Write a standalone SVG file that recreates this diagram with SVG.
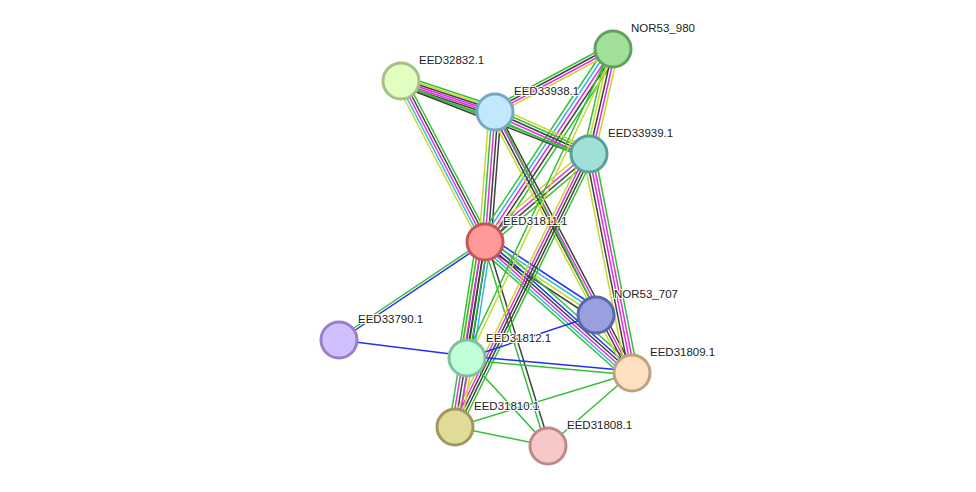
<svg xmlns="http://www.w3.org/2000/svg" width="976" height="492" viewBox="0 0 976 492">
<style>
line{stroke-width:1.5;fill:none}
.g{stroke:#33c033}.y{stroke:#c8d830}.c{stroke:#30b8e0}.m{stroke:#e030e0}.k{stroke:#404040}.b{stroke:#2030f0}
circle{stroke-width:3}
text{font-family:"Liberation Sans",Arial,sans-serif;font-size:11.5px;fill:#222;paint-order:stroke;stroke:#fff;stroke-width:2px}
</style>
<rect width="976" height="492" fill="#fff"/>
<g id="edges">
<!-- 31811-32832 -->
<line class="y" x1="479" y1="242" x2="395" y2="81"/><line class="c" x1="482" y1="242" x2="398" y2="81"/><line class="m" x1="485" y1="242" x2="401" y2="81"/><line class="k" x1="488" y1="242" x2="404" y2="81"/><line class="g" x1="491" y1="242" x2="407" y2="81"/>
<!-- 31811-33938 -->
<line class="y" x1="479" y1="242" x2="489" y2="112"/><line class="g" x1="482" y1="242" x2="492" y2="112"/><line class="m" x1="485" y1="242" x2="495" y2="112"/><line class="k" x1="488" y1="242" x2="498" y2="112"/><line class="k" x1="491" y1="242" x2="501" y2="112"/>
<!-- 31811-980 -->
<line class="g" x1="479" y1="238" x2="607" y2="45"/><line class="c" x1="482" y1="240" x2="610" y2="47"/><line class="m" x1="485" y1="242" x2="613" y2="49"/><line class="k" x1="488" y1="244" x2="616" y2="51"/><line class="g" x1="491" y1="246" x2="619" y2="53"/>
<!-- 31811-33939 -->
<line class="y" x1="483" y1="237" x2="587" y2="149"/><line class="m" x1="485" y1="240" x2="589" y2="152"/><line class="k" x1="487" y1="243" x2="591" y2="155"/><line class="g" x1="489" y1="246" x2="593" y2="158"/>
<!-- 31811-707 -->
<line class="b" x1="488" y1="236" x2="599" y2="309"/><line class="c" x1="486" y1="239" x2="597" y2="312"/><line class="y" x1="484" y1="242" x2="595" y2="315"/><line class="k" x1="482" y1="245" x2="593" y2="318"/>
<!-- 31811-33790 -->
<line class="g" x1="485" y1="240" x2="339" y2="338"/><line class="b" x1="485" y1="243" x2="339" y2="341"/>
<!-- 31811-31812 -->
<line class="g" x1="476" y1="242" x2="458" y2="358"/><line class="y" x1="479" y1="242" x2="461" y2="358"/><line class="k" x1="482" y1="242" x2="464" y2="358"/><line class="k" x1="485" y1="242" x2="467" y2="358"/><line class="b" x1="488" y1="242" x2="470" y2="358"/><line class="c" x1="491" y1="242" x2="473" y2="358"/>
<!-- 31811-31809 -->
<line class="g" x1="489" y1="237" x2="636" y2="368"/><line class="b" x1="487" y1="240" x2="634" y2="371"/><line class="k" x1="485" y1="242" x2="632" y2="373"/><line class="m" x1="483" y1="244" x2="630" y2="375"/><line class="c" x1="481" y1="246" x2="628" y2="377"/><line class="g" x1="479" y1="248" x2="626" y2="379"/>
<!-- 31811-31810 -->
<line class="g" x1="479" y1="242" x2="449" y2="427"/><line class="m" x1="482" y1="242" x2="452" y2="427"/><line class="k" x1="485" y1="242" x2="455" y2="427"/><line class="g" x1="488" y1="242" x2="458" y2="427"/>
<!-- 31811-31808 -->
<line class="g" x1="483" y1="242" x2="546" y2="446"/><line class="k" x1="487" y1="242" x2="550" y2="446"/>
<!-- 32832-33938 -->
<line class="g" x1="401" y1="75" x2="495" y2="106"/><line class="y" x1="401" y1="77" x2="495" y2="108"/><line class="k" x1="401" y1="79" x2="495" y2="110"/><line class="m" x1="401" y1="81" x2="495" y2="112"/><line class="m" x1="401" y1="83" x2="495" y2="114"/><line class="k" x1="401" y1="85" x2="495" y2="116"/><line class="g" x1="401" y1="87" x2="495" y2="118"/>
<!-- 32832-33939 -->
<line class="g" x1="401" y1="84" x2="589" y2="157"/><line class="k" x1="401" y1="86" x2="589" y2="159"/>
<!-- 33938-980 -->
<line class="g" x1="495" y1="106" x2="613" y2="43"/><line class="k" x1="495" y1="109" x2="613" y2="46"/><line class="m" x1="495" y1="112" x2="613" y2="49"/><line class="y" x1="495" y1="115" x2="613" y2="52"/>
<!-- 33938-33939 -->
<line class="y" x1="495" y1="106" x2="589" y2="148"/><line class="g" x1="495" y1="109" x2="589" y2="151"/><line class="k" x1="495" y1="112" x2="589" y2="154"/><line class="m" x1="495" y1="115" x2="589" y2="157"/><line class="g" x1="495" y1="118" x2="589" y2="160"/>
<!-- 33938-31809 -->
<line class="y" x1="489" y1="112" x2="626" y2="373"/><line class="k" x1="492" y1="112" x2="629" y2="373"/><line class="m" x1="495" y1="112" x2="632" y2="373"/><line class="k" x1="498" y1="112" x2="635" y2="373"/>
<!-- 33938-707 -->
<line class="g" x1="497" y1="112" x2="598" y2="315"/>
<!-- 980-33939 -->
<line class="g" x1="607" y1="49" x2="583" y2="154"/><line class="y" x1="610" y1="49" x2="586" y2="154"/><line class="k" x1="613" y1="49" x2="589" y2="154"/><line class="m" x1="616" y1="49" x2="592" y2="154"/><line class="y" x1="619" y1="49" x2="595" y2="154"/>
<!-- 980-31812 -->
<line class="g" x1="611" y1="49" x2="465" y2="358"/><line class="y" x1="615" y1="49" x2="469" y2="358"/>
<!-- 33939-31810 -->
<line class="y" x1="583" y1="154" x2="449" y2="427"/><line class="m" x1="586" y1="154" x2="452" y2="427"/><line class="k" x1="589" y1="154" x2="455" y2="427"/><line class="k" x1="592" y1="154" x2="458" y2="427"/><line class="g" x1="595" y1="154" x2="461" y2="427"/>
<!-- 33939-31809 -->
<line class="y" x1="583" y1="154" x2="626" y2="373"/><line class="k" x1="586" y1="154" x2="629" y2="373"/><line class="m" x1="589" y1="154" x2="632" y2="373"/><line class="m" x1="592" y1="154" x2="635" y2="373"/><line class="g" x1="595" y1="154" x2="638" y2="373"/>
<!-- 31812-31810 -->
<line class="m" x1="470" y1="358" x2="458" y2="427"/><line class="y" x1="473" y1="358" x2="461" y2="427"/>
<!-- misc -->
<line class="b" x1="339" y1="340" x2="467" y2="356"/>
<line class="b" x1="467" y1="358" x2="596" y2="315"/>
<line class="b" x1="467" y1="356" x2="632" y2="371"/><line class="g" x1="467" y1="360" x2="632" y2="375"/>
<line class="g" x1="467" y1="358" x2="548" y2="446"/>
<line class="g" x1="455" y1="427" x2="632" y2="373"/>
<line class="g" x1="455" y1="427" x2="548" y2="446"/>
<line class="g" x1="548" y1="446" x2="632" y2="373"/>
</g>
<g id="n32832"><circle cx="401" cy="81" r="18" fill="#e0ffc0" stroke="#a8c088"/><text x="419" y="64">EED32832.1</text></g>
<g id="n33938"><circle cx="495" cy="112" r="18" fill="#c0e8ff" stroke="#78a8c0"/><text x="514" y="95">EED33938.1</text></g>
<g id="n980"><circle cx="613" cy="49" r="18" fill="#a0e098" stroke="#60a060"/><text x="631" y="32">NOR53_980</text></g>
<g id="n33939"><circle cx="589" cy="154" r="18" fill="#a0e0d8" stroke="#58a098"/><text x="608" y="137">EED33939.1</text></g>
<g id="n31811"><circle cx="485" cy="242" r="18" fill="#ff9898" stroke="#c05858"/><text x="503" y="225">EED31811.1</text></g>
<g id="n707"><circle cx="596" cy="315" r="18" fill="#98a0e0" stroke="#5868a8"/><text x="614" y="298">NOR53_707</text></g>
<g id="n33790"><circle cx="339" cy="340" r="18" fill="#d0c0ff" stroke="#9880c8"/><text x="358" y="323">EED33790.1</text></g>
<g id="n31812"><circle cx="467" cy="358" r="18" fill="#c0ffd8" stroke="#80c0a0"/><text x="486" y="342">EED31812.1</text></g>
<g id="n31809"><circle cx="632" cy="373" r="18" fill="#ffe0c0" stroke="#c0a080"/><text x="650" y="356">EED31809.1</text></g>
<g id="n31810"><circle cx="455" cy="427" r="18" fill="#e0dc98" stroke="#a09858"/><text x="474" y="410">EED31810.1</text></g>
<g id="n31808"><circle cx="548" cy="446" r="18" fill="#f8c8c8" stroke="#c08888"/><text x="567" y="429">EED31808.1</text></g>
</svg>
